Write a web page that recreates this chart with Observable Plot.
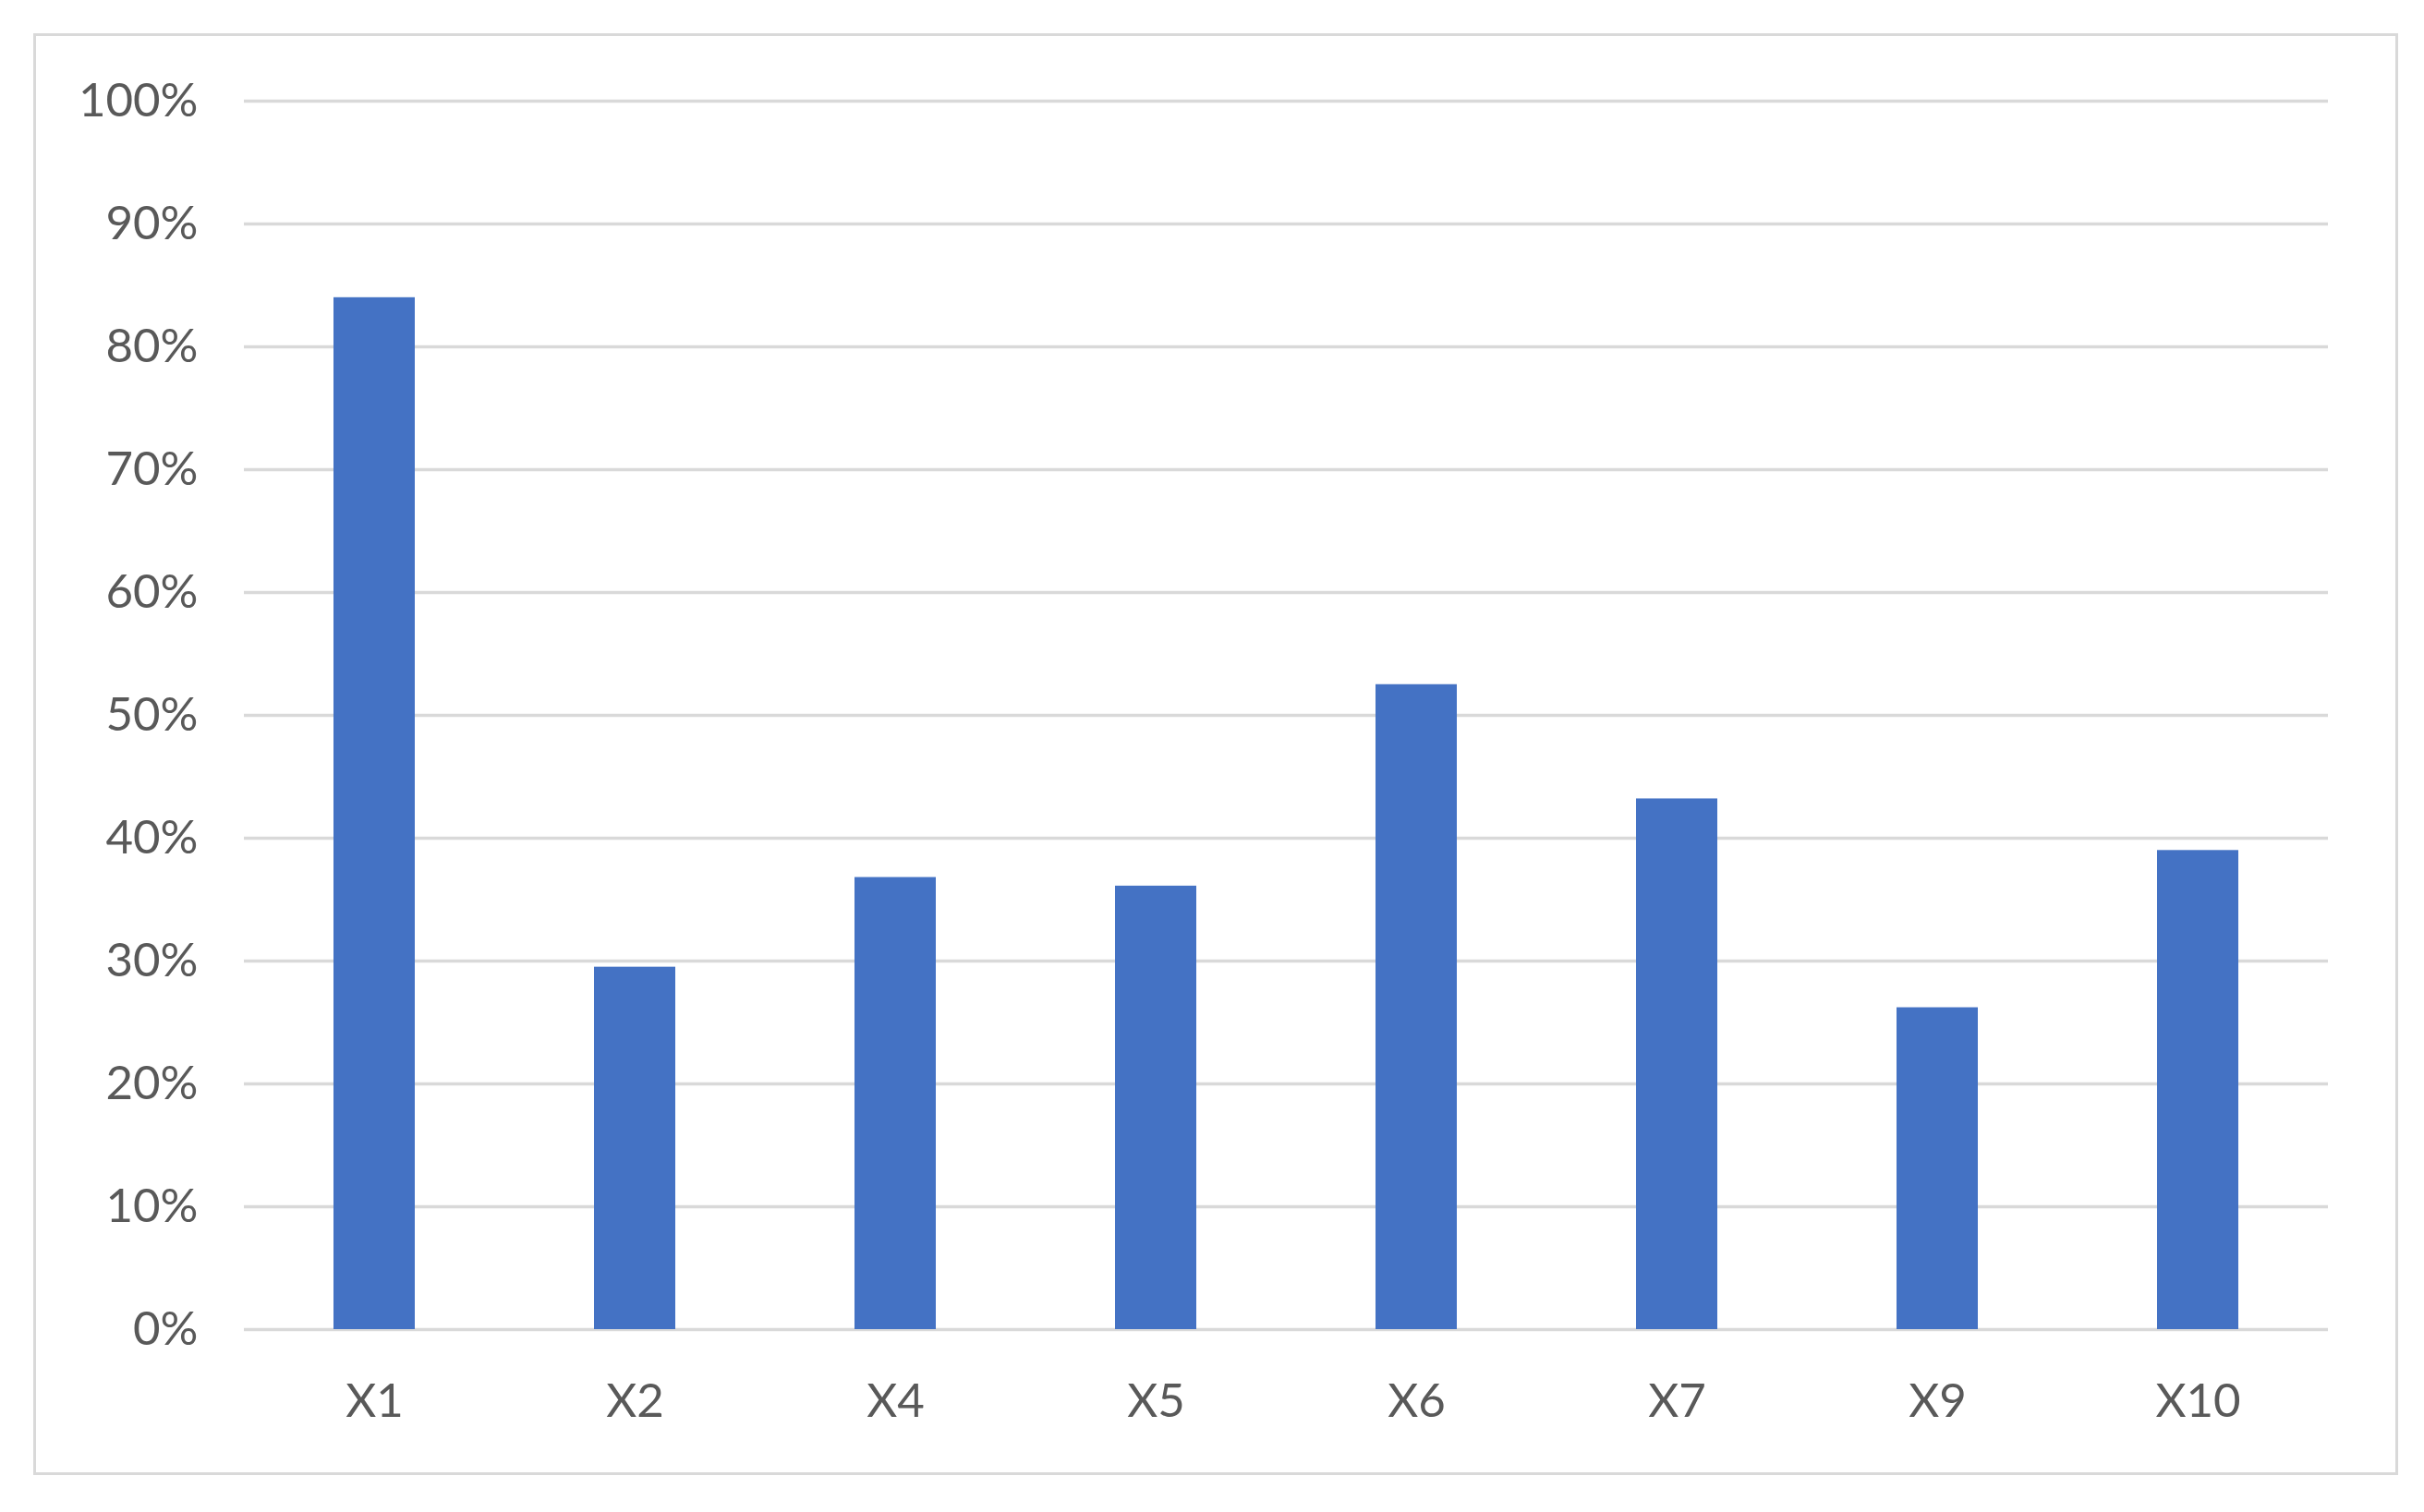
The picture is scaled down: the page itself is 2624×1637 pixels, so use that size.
<!DOCTYPE html>
<html>
<head>
<meta charset="utf-8">
<script src="https://cdn.jsdelivr.net/npm/d3@7"></script>
<script src="https://cdn.jsdelivr.net/npm/@observablehq/plot@0.6"></script>
<style>
  html, body { margin: 0; padding: 0; background: #ffffff; }
  #chart { width: 2624px; height: 1637px; }
</style>
</head>
<body>
<div id="chart"></div>
<script>
const categories = ["X1", "X2", "X4", "X5", "X6", "X7", "X9", "X10"];
const values = [0.840, 0.295, 0.368, 0.361, 0.525, 0.432, 0.262, 0.390];
const yTicks = [0, 0.1, 0.2, 0.3, 0.4, 0.5, 0.6, 0.7, 0.8, 0.9, 1.0];

const data = categories.map((c, i) => ({cat: c, value: values[i]}));
const pct = d3.format(".0%");

const chart = Plot.plot({
  width: 2624,
  height: 1637,
  marginLeft: 264,
  marginRight: 104,
  marginTop: 109,
  marginBottom: 198,
  style: {fontFamily: "Lato, 'Open Sans', sans-serif", fontSize: "51px", color: "#595959", background: "#ffffff"},
  x: {domain: categories, paddingInner: 0.688, paddingOuter: 0.344, label: null},
  y: {domain: [0, 1], label: null},
  marks: [
    Plot.frame({stroke: "#d9d9d9", strokeWidth: 3, insetLeft: -227, insetTop: -72, insetRight: -74, insetBottom: -156}),
    Plot.gridY(yTicks, {stroke: "#d9d9d9", strokeOpacity: 1, strokeWidth: 3.5}),
    Plot.barY(data, {x: "cat", y: "value", fill: "#4472C4"}),
    Plot.axisY({ticks: yTicks, tickSize: 0, tickPadding: 50, tickFormat: pct, label: null}),
    Plot.axisX({tickSize: 0, tickPadding: 58, label: null})
  ]
});
document.getElementById("chart").appendChild(chart);
</script>
</body>
</html>
